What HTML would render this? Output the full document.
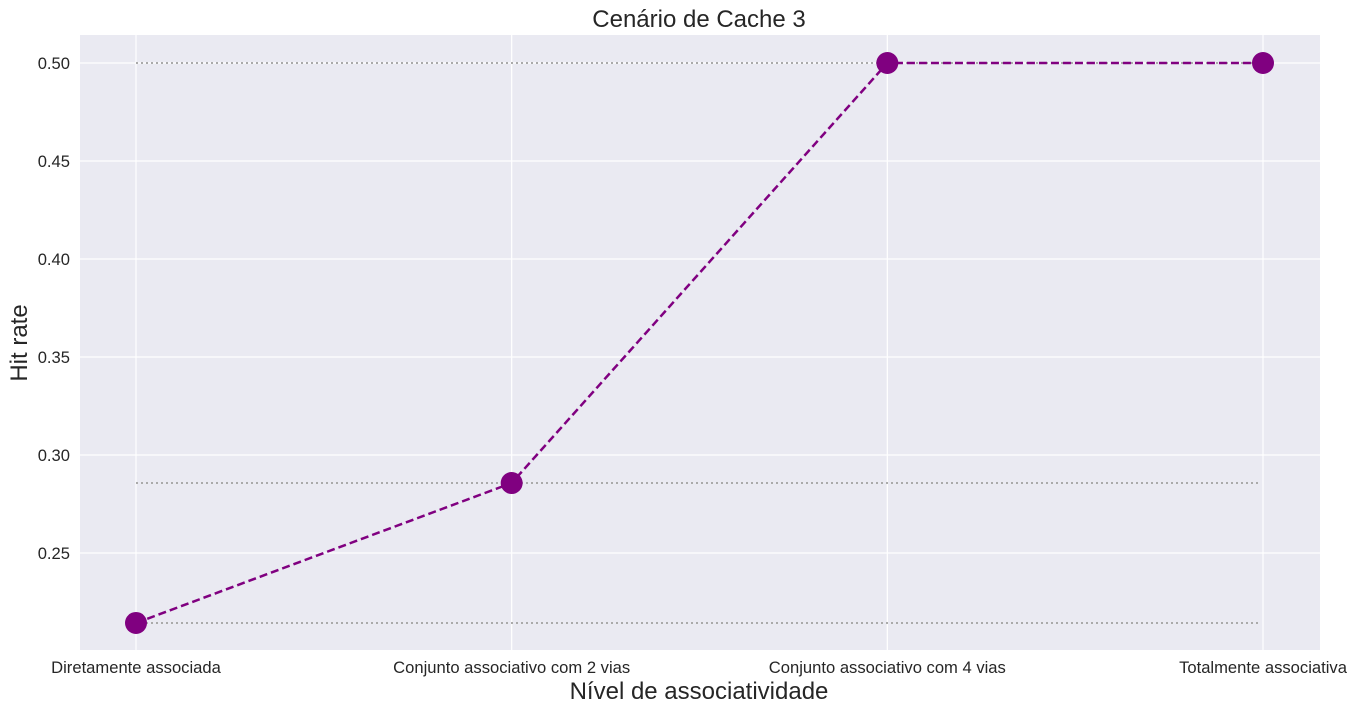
<!DOCTYPE html>
<html><head><meta charset="utf-8"><style>
body{margin:0;background:#fff;}
svg text{font-family:"Liberation Sans",sans-serif;fill:#262626;}
</style></head><body>
<svg width="1357" height="713" xmlns="http://www.w3.org/2000/svg">
<rect x="80" y="35" width="1240" height="615" fill="#eaeaf2"/>
<g id="grid"></g>
<g id="marks"></g>
<text x="699" y="27" text-anchor="middle" font-size="24">Cenário de Cache 3</text>
<text x="699" y="699" text-anchor="middle" font-size="24">Nível de associatividade</text>
<text transform="translate(27,343) rotate(-90)" text-anchor="middle" font-size="24">Hit rate</text>
</svg>
<script>
const categories=["Diretamente associada","Conjunto associativo com 2 vias","Conjunto associativo com 4 vias","Totalmente associativa"];
const hitRates=[0.2143,0.2857,0.5,0.5];
const yTicks=[0.25,0.30,0.35,0.40,0.45,0.50];
const yTickLabels=["0.25","0.30","0.35","0.40","0.45","0.50"];
const NS="http://www.w3.org/2000/svg";
function X(i){return 136+i*(1263-136)/(categories.length-1);}
function Y(v){return 553-(v-0.25)/0.05*98;}
function mk(t,a,p){const e=document.createElementNS(NS,t);for(const k in a)e.setAttribute(k,a[k]);p.appendChild(e);return e;}
const g=document.getElementById('grid'),m=document.getElementById('marks');
yTicks.forEach((v,i)=>{
 const l=mk('line',{x1:80,x2:1320,y1:Y(v),y2:Y(v),stroke:'#fff','stroke-width':1.2},g);
 
 
 const t=mk('text',{x:70,y:Y(v)+6,'text-anchor':'end','font-size':16.6},g);t.textContent=yTickLabels[i];
 
 
});
categories.forEach((c,i)=>{
 const l=mk('line',{x1:X(i),x2:X(i),y1:35,y2:650,stroke:'#fff','stroke-width':1.2},g);
 
 
 const t=mk('text',{x:X(i),y:673,'text-anchor':'middle','font-size':16.6},g);t.textContent=c;
 
 
});
[...new Set(hitRates)].forEach(v=>{
 const l=mk('line',{x1:X(0),x2:1260,y1:Y(v),y2:Y(v),stroke:'#aaa','stroke-width':2,'stroke-dasharray':'2,3'},m);
 
 
});
const pl=mk('polyline',{points:hitRates.map((v,i)=>X(i)+','+Y(v)).join(' '),fill:'none',stroke:'#800080','stroke-width':2.5,'stroke-dasharray':'8,4'},m);


hitRates.forEach((v,i)=>{
 const c=mk('circle',{cx:X(i),cy:Y(v),r:11,fill:'#800080'},m);
 
 
});
</script>
</body></html>
